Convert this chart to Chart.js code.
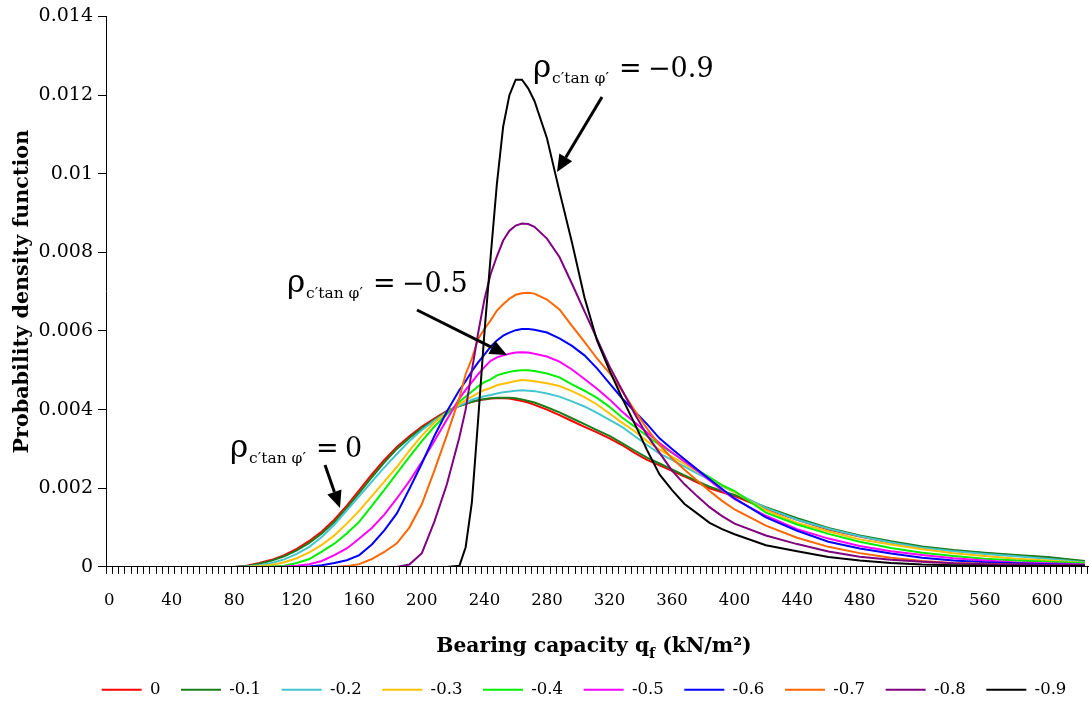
<!DOCTYPE html>
<html><head><meta charset="utf-8">
<script src="https://cdn.jsdelivr.net/npm/chart.js@4"></script>
<style>html,body{margin:0;padding:0;background:#fff;overflow:hidden}canvas{display:block}</style>
</head><body>
<canvas id="c" width="1090" height="702" style="width:1090px;height:702px"></canvas>
<script>
// x categories (kN/m²), one per tick interval
const categories = [0,4,8,12,16,20,24,28,32,36,40,44,48,52,56,60,64,68,72,76,80,84,88,92,96,100,104,108,112,116,120,124,128,132,136,140,144,148,152,156,160,164,168,172,176,180,184,188,192,196,200,204,208,212,216,220,224,228,232,236,240,244,248,252,256,260,264,268,272,276,280,284,288,292,296,300,304,308,312,316,320,324,328,332,336,340,344,348,352,356,360,364,368,372,376,380,384,388,392,396,400,404,408,412,416,420,424,428,432,436,440,444,448,452,456,460,464,468,472,476,480,484,488,492,496,500,504,508,512,516,520,524,528,532,536,540,544,548,552,556,560,564,568,572,576,580,584,588,592,596,600,604,608,612,616,620,624];
const xTickLabels = [0,40,80,120,160,200,240,280,320,360,400,440,480,520,560,600];
const yTickValues = [0,0.002,0.004,0.006,0.008,0.01,0.012,0.014];

const qfSamples = [0,80,88,96,104,112,120,128,136,144,152,160,168,176,184,192,200,208,216,224,228,232,236,240,244,248,252,256,260,264,268,272,280,288,296,304,312,320,328,336,344,352,360,368,376,384,392,400,420,440,460,480,500,520,540,560,580,600,624];

const seriesNames = ['0','-0.1','-0.2','-0.3','-0.4','-0.5','-0.6','-0.7','-0.8','-0.9'];

const pdf_0 = [0,0,0.03e-3,0.1e-3,0.18e-3,0.3e-3,0.46e-3,0.66e-3,0.9e-3,1.2e-3,
 1.56e-3,1.95e-3,2.35e-3,2.72e-3,3.05e-3,3.32e-3,3.57e-3,3.77e-3,3.97e-3,4.1e-3,
 4.15e-3,4.2e-3,4.23e-3,4.26e-3,4.28e-3,4.29e-3,4.29e-3,4.28e-3,4.25e-3,4.22e-3,
 4.18e-3,4.12e-3,4.0e-3,3.86e-3,3.71e-3,3.56e-3,3.42e-3,3.27e-3,3.1e-3,2.9e-3,
 2.72e-3,2.58e-3,2.44e-3,2.3e-3,2.15e-3,2.0e-3,1.9e-3,1.8e-3,1.48e-3,1.2e-3,
 0.95e-3,0.77e-3,0.62e-3,0.5e-3,0.41e-3,0.35e-3,0.29e-3,0.24e-3,0.14e-3];
const pdf_m01 = [0,0,0.02e-3,0.08e-3,0.16e-3,0.27e-3,0.42e-3,0.61e-3,0.85e-3,1.14e-3,
 1.5e-3,1.88e-3,2.28e-3,2.66e-3,3.0e-3,3.28e-3,3.53e-3,3.74e-3,3.95e-3,4.09e-3,
 4.14e-3,4.2e-3,4.24e-3,4.27e-3,4.29e-3,4.3e-3,4.3e-3,4.3e-3,4.29e-3,4.26e-3,
 4.22e-3,4.18e-3,4.06e-3,3.93e-3,3.78e-3,3.63e-3,3.48e-3,3.33e-3,3.15e-3,2.96e-3,
 2.78e-3,2.63e-3,2.48e-3,2.33e-3,2.18e-3,2.04e-3,1.93e-3,1.83e-3,1.52e-3,1.24e-3,
 0.99e-3,0.8e-3,0.65e-3,0.52e-3,0.43e-3,0.36e-3,0.3e-3,0.25e-3,0.15e-3];
const pdf_m02 = [0,0,0.01e-3,0.04e-3,0.1e-3,0.19e-3,0.33e-3,0.51e-3,0.76e-3,1.07e-3,
 1.44e-3,1.8e-3,2.17e-3,2.53e-3,2.87e-3,3.2e-3,3.48e-3,3.72e-3,3.93e-3,4.1e-3,
 4.17e-3,4.25e-3,4.3e-3,4.34e-3,4.37e-3,4.41e-3,4.44e-3,4.46e-3,4.48e-3,4.49e-3,
 4.48e-3,4.47e-3,4.41e-3,4.33e-3,4.21e-3,4.08e-3,3.92e-3,3.74e-3,3.56e-3,3.33e-3,
 3.1e-3,2.88e-3,2.72e-3,2.55e-3,2.38e-3,2.22e-3,2.05e-3,1.9e-3,1.5e-3,1.2e-3,
 0.97e-3,0.78e-3,0.62e-3,0.49e-3,0.4e-3,0.33e-3,0.27e-3,0.21e-3,0.12e-3];
const pdf_m03 = [0,0,0,0.02e-3,0.05e-3,0.12e-3,0.22e-3,0.37e-3,0.56e-3,0.8e-3,
 1.1e-3,1.43e-3,1.8e-3,2.17e-3,2.54e-3,2.96e-3,3.34e-3,3.67e-3,3.93e-3,4.14e-3,
 4.24e-3,4.33e-3,4.42e-3,4.5e-3,4.55e-3,4.62e-3,4.66e-3,4.69e-3,4.73e-3,4.75e-3,
 4.74e-3,4.72e-3,4.67e-3,4.6e-3,4.47e-3,4.32e-3,4.13e-3,3.9e-3,3.67e-3,3.45e-3,
 3.2e-3,2.98e-3,2.8e-3,2.62e-3,2.43e-3,2.25e-3,2.07e-3,1.9e-3,1.44e-3,1.12e-3,
 0.9e-3,0.7e-3,0.57e-3,0.45e-3,0.35e-3,0.28e-3,0.21e-3,0.16e-3,0.1e-3];
const pdf_m04 = [0,0,0,0,0.01e-3,0.03e-3,0.1e-3,0.2e-3,0.39e-3,0.59e-3,
 0.85e-3,1.15e-3,1.55e-3,1.96e-3,2.38e-3,2.8e-3,3.2e-3,3.57e-3,3.88e-3,4.2e-3,
 4.33e-3,4.46e-3,4.59e-3,4.7e-3,4.77e-3,4.87e-3,4.92e-3,4.96e-3,4.99e-3,5.0e-3,
 5.0e-3,4.98e-3,4.92e-3,4.82e-3,4.64e-3,4.48e-3,4.3e-3,4.07e-3,3.8e-3,3.57e-3,
 3.33e-3,3.1e-3,2.9e-3,2.68e-3,2.47e-3,2.28e-3,2.08e-3,1.93e-3,1.38e-3,1.08e-3,
 0.84e-3,0.64e-3,0.48e-3,0.36e-3,0.28e-3,0.21e-3,0.16e-3,0.13e-3,0.09e-3];
const pdf_m05 = [0,0,0,0,0,0.01e-3,0.03e-3,0.07e-3,0.15e-3,0.3e-3,
 0.47e-3,0.72e-3,0.99e-3,1.33e-3,1.74e-3,2.18e-3,2.67e-3,3.2e-3,3.75e-3,4.28e-3,
 4.5e-3,4.7e-3,4.9e-3,5.08e-3,5.24e-3,5.33e-3,5.38e-3,5.42e-3,5.45e-3,5.46e-3,
 5.45e-3,5.42e-3,5.35e-3,5.22e-3,5.02e-3,4.78e-3,4.53e-3,4.26e-3,3.95e-3,3.68e-3,
 3.42e-3,3.15e-3,2.91e-3,2.68e-3,2.45e-3,2.2e-3,1.95e-3,1.72e-3,1.3e-3,0.96e-3,
 0.72e-3,0.53e-3,0.4e-3,0.3e-3,0.22e-3,0.16e-3,0.11e-3,0.09e-3,0.06e-3];
const pdf_m06 = [0,0,0,0,0,0,0,0.01e-3,0.04e-3,0.1e-3,
 0.17e-3,0.3e-3,0.57e-3,0.93e-3,1.36e-3,1.98e-3,2.63e-3,3.33e-3,3.95e-3,4.5e-3,
 4.72e-3,4.98e-3,5.2e-3,5.4e-3,5.6e-3,5.76e-3,5.88e-3,5.96e-3,6.02e-3,6.05e-3,
 6.05e-3,6.03e-3,5.96e-3,5.81e-3,5.62e-3,5.38e-3,5.05e-3,4.67e-3,4.29e-3,3.96e-3,
 3.63e-3,3.27e-3,3.0e-3,2.74e-3,2.48e-3,2.23e-3,1.98e-3,1.74e-3,1.26e-3,0.92e-3,
 0.64e-3,0.47e-3,0.34e-3,0.23e-3,0.16e-3,0.12e-3,0.09e-3,0.07e-3,0.05e-3];
const pdf_m07 = [0,0,0,0,0,0,0,0,0,0,
 0.02e-3,0.07e-3,0.2e-3,0.38e-3,0.6e-3,1.0e-3,1.6e-3,2.45e-3,3.35e-3,4.3e-3,
 4.9e-3,5.3e-3,5.8e-3,6.05e-3,6.27e-3,6.52e-3,6.68e-3,6.82e-3,6.92e-3,6.96e-3,
 6.97e-3,6.95e-3,6.8e-3,6.55e-3,6.13e-3,5.72e-3,5.3e-3,4.93e-3,4.48e-3,3.98e-3,
 3.52e-3,3.1e-3,2.76e-3,2.47e-3,2.2e-3,1.93e-3,1.68e-3,1.46e-3,1.05e-3,0.74e-3,
 0.51e-3,0.35e-3,0.23e-3,0.15e-3,0.1e-3,0.08e-3,0.06e-3,0.05e-3,0.03e-3];
const pdf_m08 = [0,0,0,0,0,0,0,0,0,0,
 0,0,0,0,0,0.06e-3,0.35e-3,1.15e-3,2.1e-3,3.3e-3,
 4.0e-3,5.0e-3,5.95e-3,6.8e-3,7.45e-3,7.9e-3,8.3e-3,8.55e-3,8.68e-3,8.73e-3,
 8.72e-3,8.65e-3,8.35e-3,7.88e-3,7.2e-3,6.5e-3,5.8e-3,5.1e-3,4.5e-3,3.9e-3,
 3.35e-3,2.9e-3,2.45e-3,2.1e-3,1.8e-3,1.52e-3,1.29e-3,1.1e-3,0.8e-3,0.58e-3,
 0.39e-3,0.26e-3,0.18e-3,0.13e-3,0.09e-3,0.07e-3,0.06e-3,0.05e-3,0.04e-3];
const pdf_m09 = [0,0,0,0,0,0,0,0,0,0,
 0,0,0,0,0,0,0,0,0,0.03e-3,
 0.5e-3,1.65e-3,3.75e-3,5.95e-3,7.9e-3,9.75e-3,11.2e-3,12.0e-3,12.39e-3,12.39e-3,
 12.17e-3,11.85e-3,10.9e-3,9.55e-3,8.25e-3,6.85e-3,5.76e-3,5.0e-3,4.3e-3,3.65e-3,
 2.97e-3,2.35e-3,1.95e-3,1.6e-3,1.36e-3,1.12e-3,0.96e-3,0.83e-3,0.55e-3,0.4e-3,
 0.25e-3,0.16e-3,0.1e-3,0.06e-3,0.04e-3,0.03e-3,0.02e-3,0.02e-3,0.02e-3];

const allSeries = [pdf_0,pdf_m01,pdf_m02,pdf_m03,pdf_m04,pdf_m05,pdf_m06,pdf_m07,pdf_m08,pdf_m09];
const colors = ['#FF0000','#1A7F1A','#44C6D0','#FFC000','#00F000','#FF00FF','#0000FF','#FF6600','#800080','#000000'];

const FONT = "'DejaVu Serif', serif";

const datasets = allSeries.map((vals, i) => ({
  label: seriesNames[i],
  data: qfSamples.map((q, j) => ({x: String(q), y: vals[j]})),
  borderColor: colors[i],
  backgroundColor: colors[i],
  borderWidth: 2,
  pointRadius: 0,
  pointHoverRadius: 0,
  tension: 0,
  fill: false,
  order: allSeries.length - i
}));

const legendShift = {
  id: 'legendShift',
  afterLayout(chart) {
    const l = chart.legend;
    if (!l) return;
    l.left += 40; l.right += 40;
    l.top += 6; l.bottom += 6;
  }
};

function drawArrow(ctx, x1, y1, x2, y2) {
  const ang = Math.atan2(y2 - y1, x2 - x1);
  const hl = 17, hw = 7.5;
  const bx = x2 - hl * Math.cos(ang), by = y2 - hl * Math.sin(ang);
  ctx.beginPath();
  ctx.lineWidth = 3;
  ctx.strokeStyle = '#000';
  ctx.moveTo(x1, y1);
  ctx.lineTo(bx, by);
  ctx.stroke();
  ctx.beginPath();
  ctx.fillStyle = '#000';
  ctx.moveTo(x2, y2);
  ctx.lineTo(bx + hw * Math.sin(ang), by - hw * Math.cos(ang));
  ctx.lineTo(bx - hw * Math.sin(ang), by + hw * Math.cos(ang));
  ctx.closePath();
  ctx.fill();
}

function drawRho(ctx, x, base, value) {
  ctx.fillStyle = '#000';
  ctx.textAlign = 'left';
  ctx.textBaseline = 'alphabetic';
  ctx.font = '31px ' + FONT;
  ctx.fillText('ρ', x, base);
  ctx.font = '15.5px ' + FONT;
  ctx.fillText('c′tan φ′', x + 19, base + 6);
  ctx.font = '27px ' + FONT;
  ctx.fillText('=', x + 86, base);
  ctx.fillText(value, x + 115, base);
}

const annotations = {
  id: 'annotations',
  afterDraw(chart) {
    const ctx = chart.ctx;
    ctx.save();
    // x axis title with subscript
    const cx = 594, base = 652;
    const f1 = 'bold 20.3px ' + FONT, f2 = 'bold 14px ' + FONT;
    const t1 = 'Bearing capacity q', t2 = 'f', t3 = ' (kN/m²)';
    ctx.font = f1; const w1 = ctx.measureText(t1).width, w3 = ctx.measureText(t3).width;
    ctx.font = f2; const w2 = ctx.measureText(t2).width;
    let x = cx - (w1 + w2 + w3) / 2;
    ctx.fillStyle = '#000'; ctx.textAlign = 'left'; ctx.textBaseline = 'alphabetic';
    ctx.font = f1; ctx.fillText(t1, x, base); x += w1;
    ctx.font = f2; ctx.fillText(t2, x, base + 6); x += w2;
    ctx.font = f1; ctx.fillText(t3, x, base);

    drawRho(ctx, 533, 77, '−0.9');
    drawArrow(ctx, 602, 97, 557, 172);
    drawRho(ctx, 287, 292, '−0.5');
    drawArrow(ctx, 417, 310, 507, 355);
    drawRho(ctx, 230, 457, '0');
    drawArrow(ctx, 325, 465, 340, 508);
    ctx.restore();
  }
};

new Chart(document.getElementById('c'), {
  type: 'line',
  data: { labels: categories.map(String), datasets },
  options: {
    responsive: false,
    animation: false,
    events: [],
    layout: { padding: { top: 4, right: 2, left: 0, bottom: 0 } },
    plugins: {
      legend: {
        position: 'bottom',
        fullSize: true,
        labels: {
          usePointStyle: true,
          pointStyle: 'line',
          pointStyleWidth: 40,
          padding: 20.6,
          color: '#000',
          font: { family: FONT, size: 16.5 },
          sort: (a, b) => a.datasetIndex - b.datasetIndex
        }
      },
      tooltip: { enabled: false }
    },
    scales: {
      x: {
        type: 'category',
        offset: true,
        grid: { display: true, drawOnChartArea: false, drawTicks: true, tickLength: 7, color: '#000', offset: true },
        border: { display: true, color: '#000', width: 1 },
        ticks: {
          autoSkip: false, maxRotation: 0, minRotation: 0, padding: 17, color: '#000',
          font: { family: FONT, size: 16.5 },
          callback: function (v, i) { const c = categories[i]; return xTickLabels.includes(c) ? String(c) : ''; }
        },
        afterFit: s => { s.height = 88; s.paddingLeft = 0; s.paddingRight = 0; }
      },
      y: {
        min: 0, max: 0.014,
        afterBuildTicks: s => { s.ticks = yTickValues.map(v => ({ value: v })); },
        grid: { drawOnChartArea: false, tickLength: 8, color: '#000' },
        border: { display: true, color: '#000', width: 1 },
        ticks: {
          padding: 5, color: '#000', font: { family: FONT, size: 19 },
          callback: v => v === 0 ? '0' : String(parseFloat(v.toFixed(3)))
        },
        title: {
          display: true, text: 'Probability density function', color: '#000',
          font: { family: FONT, size: 20.7, weight: 'bold' }, padding: { top: 10, bottom: 0 }
        },
        afterFit: s => { s.width = 106; }
      }
    }
  },
  plugins: [legendShift, annotations]
});
</script>
</body></html>
